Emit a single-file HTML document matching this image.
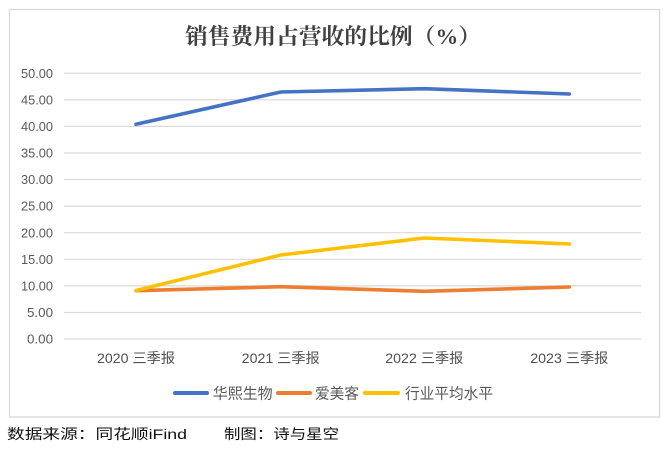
<!DOCTYPE html>
<html>
<head>
<meta charset="utf-8">
<style>
  html, body { margin:0; padding:0; background:#fff; }
  body { width:671px; height:454px; overflow:hidden; }
  svg { display:block; }
</style>
</head>
<body>
<svg width="671" height="454" viewBox="0 0 671 454" xmlns="http://www.w3.org/2000/svg">
  <rect x="0" y="0" width="671" height="454" fill="#ffffff"/>
  <!-- chart border -->
  <rect x="9.5" y="9.5" width="650" height="407.5" fill="#ffffff" stroke="#d9d9d9" stroke-width="1.3"/>

  <!-- title -->
  <text x="185" y="44" font-family="'Liberation Serif','Noto Serif CJK SC',serif" font-weight="bold" font-size="22" fill="#404040" textLength="296" lengthAdjust="spacingAndGlyphs">销售费用占营收的比例（%）</text>

  <!-- gridlines -->
  <g stroke="#d9d9d9" stroke-width="1.2">
    <line x1="64" x2="641" y1="73.2" y2="73.2"/>
    <line x1="64" x2="641" y1="99.8" y2="99.8"/>
    <line x1="64" x2="641" y1="126.4" y2="126.4"/>
    <line x1="64" x2="641" y1="153" y2="153"/>
    <line x1="64" x2="641" y1="179.5" y2="179.5"/>
    <line x1="64" x2="641" y1="206.1" y2="206.1"/>
    <line x1="64" x2="641" y1="232.7" y2="232.7"/>
    <line x1="64" x2="641" y1="259.3" y2="259.3"/>
    <line x1="64" x2="641" y1="285.9" y2="285.9"/>
    <line x1="64" x2="641" y1="312.5" y2="312.5"/>
    <line x1="64" x2="641" y1="339" y2="339"/>
  </g>

  <!-- y labels -->
  <g font-family="'Liberation Sans',sans-serif" font-size="13" fill="#595959" text-anchor="end">
    <text x="53" y="77.8" textLength="32" lengthAdjust="spacingAndGlyphs">50.00</text>
    <text x="53" y="104.4" textLength="32" lengthAdjust="spacingAndGlyphs">45.00</text>
    <text x="53" y="131" textLength="32" lengthAdjust="spacingAndGlyphs">40.00</text>
    <text x="53" y="157.6" textLength="32" lengthAdjust="spacingAndGlyphs">35.00</text>
    <text x="53" y="184.1" textLength="32" lengthAdjust="spacingAndGlyphs">30.00</text>
    <text x="53" y="210.7" textLength="32" lengthAdjust="spacingAndGlyphs">25.00</text>
    <text x="53" y="237.3" textLength="32" lengthAdjust="spacingAndGlyphs">20.00</text>
    <text x="53" y="263.9" textLength="32" lengthAdjust="spacingAndGlyphs">15.00</text>
    <text x="53" y="290.5" textLength="32" lengthAdjust="spacingAndGlyphs">10.00</text>
    <text x="53" y="317.1" textLength="26" lengthAdjust="spacingAndGlyphs">5.00</text>
    <text x="53" y="343.6" textLength="26" lengthAdjust="spacingAndGlyphs">0.00</text>
  </g>

  <!-- x labels -->
  <g font-family="'Liberation Sans','Noto Sans CJK SC',sans-serif" font-size="14" fill="#505050">
    <text x="97" y="363" textLength="78" lengthAdjust="spacingAndGlyphs">2020 三季报</text>
    <text x="241.7" y="363" textLength="78" lengthAdjust="spacingAndGlyphs">2021 三季报</text>
    <text x="385.3" y="363" textLength="78" lengthAdjust="spacingAndGlyphs">2022 三季报</text>
    <text x="530.3" y="363" textLength="78" lengthAdjust="spacingAndGlyphs">2023 三季报</text>
  </g>

  <!-- series -->
  <g fill="none" stroke-width="3.6" stroke-linecap="round" stroke-linejoin="round">
    <polyline stroke="#4472C4" points="136,124.2 280.7,92 424.3,88.7 569.3,94"/>
    <polyline stroke="#ED7D31" points="136,290.7 280.7,286.7 424.3,291.3 569.3,287"/>
    <polyline stroke="#FFC000" points="136,290.5 280.7,255 424.3,238 569.3,244"/>
  </g>

  <!-- legend -->
  <g stroke-width="4" stroke-linecap="round">
    <line x1="175" x2="207" y1="393" y2="393" stroke="#4472C4"/>
    <line x1="278" x2="310" y1="393" y2="393" stroke="#ED7D31"/>
    <line x1="365" x2="398" y1="393" y2="393" stroke="#FFC000"/>
  </g>
  <g font-family="'Liberation Sans','Noto Sans CJK SC',sans-serif" font-size="15" fill="#595959">
    <text x="212.7" y="398.5" textLength="60" lengthAdjust="spacingAndGlyphs">华熙生物</text>
    <text x="315" y="398.5" textLength="44" lengthAdjust="spacingAndGlyphs">爱美客</text>
    <text x="405" y="398.5" textLength="88" lengthAdjust="spacingAndGlyphs">行业平均水平</text>
  </g>

  <!-- footer -->
  <g font-family="'Liberation Sans','Noto Sans CJK SC',sans-serif" font-size="14" fill="#111111">
    <text x="7" y="439" textLength="180" lengthAdjust="spacingAndGlyphs">数据来源：同花顺iFind</text>
    <text x="224" y="439" textLength="115" lengthAdjust="spacingAndGlyphs">制图：诗与星空</text>
  </g>
</svg>
</body>
</html>
